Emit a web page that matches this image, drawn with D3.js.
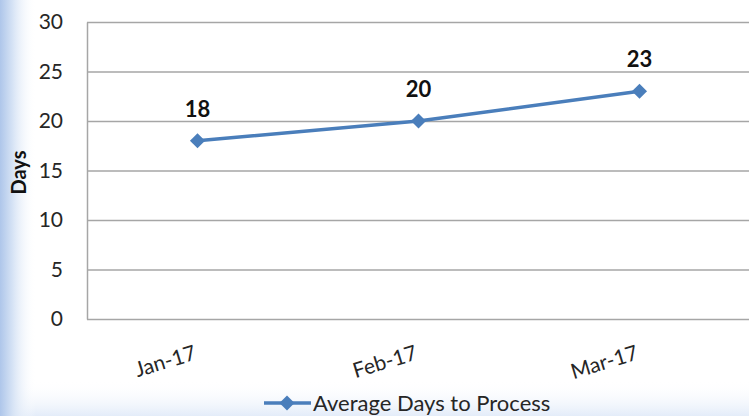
<!DOCTYPE html>
<html>
<head>
<meta charset="utf-8">
<script src="https://cdn.jsdelivr.net/npm/d3@7"></script>
<style>
  html, body { margin: 0; padding: 0; background: #fff; }
  svg { display: block; }
  text { font-family: Lato, "Open Sans", "Liberation Sans", sans-serif; }
</style>
</head>
<body>
<svg id="chart" width="749" height="416"></svg>
<script>
// Monthly average processing time
const months = ["Jan-17", "Feb-17", "Mar-17"];
const avgDays = [18, 20, 23];
const yTicks = [0, 5, 10, 15, 20, 25, 30];
const seriesName = "Average Days to Process";

const W = 749, H = 416;
const plot = { left: 87, right: 750, top: 22, bottom: 319 };
const lineColor = "#4a7ebb";

const svg = d3.select("#chart");
const defs = svg.append("defs");

// Soft blue edges of the chart frame
const gl = defs.append("linearGradient").attr("id", "edgeLeft")
  .attr("x1", 0).attr("x2", 1).attr("y1", 0).attr("y2", 0);
gl.append("stop").attr("offset", 0).attr("stop-color", "#aec6ea");
gl.append("stop").attr("offset", 0.35).attr("stop-color", "#d6e3f5");
gl.append("stop").attr("offset", 1).attr("stop-color", "#ffffff").attr("stop-opacity", 0);

const gb = defs.append("linearGradient").attr("id", "edgeBottom")
  .attr("x1", 0).attr("x2", 0).attr("y1", 0).attr("y2", 1);
gb.append("stop").attr("offset", 0).attr("stop-color", "#ffffff").attr("stop-opacity", 0);
gb.append("stop").attr("offset", 1).attr("stop-color", "#e3ecf9");

svg.append("rect").attr("width", W).attr("height", H).attr("fill", "#fff");
svg.append("rect").attr("x", 0).attr("y", 380).attr("width", W).attr("height", 36)
  .attr("fill", "url(#edgeBottom)");
svg.append("rect").attr("x", 0).attr("y", 0).attr("width", 36).attr("height", H)
  .attr("fill", "url(#edgeLeft)");

const x = d3.scaleBand().domain(months).range([plot.left, plot.right]);
const y = d3.scaleLinear().domain([0, 30]).range([plot.bottom, plot.top]);

// Horizontal gridlines
svg.append("g").selectAll("line").data(yTicks).join("line")
  .attr("x1", plot.left).attr("x2", W)
  .attr("y1", d => y(d) + 0.5).attr("y2", d => y(d) + 0.5)
  .attr("stroke", "#a6a6a6").attr("stroke-width", 1.3);

// Y axis
const yAxis = svg.append("g").attr("transform", `translate(${plot.left},0)`)
  .call(d3.axisLeft(y).tickValues(yTicks).tickSize(0).tickPadding(24));
yAxis.select(".domain").attr("stroke", "#a6a6a6").attr("stroke-width", 1.5);
yAxis.selectAll("text").attr("font-size", 21).attr("fill", "#262626")
  .attr("font-family", "Lato, 'Open Sans', sans-serif");

// X axis with slanted month labels
const xAxis = svg.append("g").attr("transform", `translate(0,${plot.bottom})`)
  .call(d3.axisBottom(x).tickSize(0).tickPadding(0));
xAxis.select(".domain").remove();
xAxis.selectAll("text")
  .attr("font-size", 21).attr("fill", "#262626")
  .attr("font-family", "Lato, 'Open Sans', sans-serif")
  .attr("text-anchor", "end")
  .attr("dy", 0)
  .attr("transform", "translate(0,40) rotate(-17)");

// Y axis title
svg.append("text")
  .attr("transform", `translate(26,${(plot.top + plot.bottom) / 2 + 2}) rotate(-90)`)
  .attr("text-anchor", "middle")
  .attr("font-size", 20).attr("font-weight", "bold").attr("fill", "#111")
  .text("Days");

// Series line
const cx = d => x(d) + x.bandwidth() / 2;
const line = d3.line().x((d, i) => cx(months[i])).y(d => y(d));
svg.append("path").datum(avgDays)
  .attr("d", line).attr("fill", "none")
  .attr("stroke", lineColor).attr("stroke-width", 3.5).attr("stroke-linejoin", "round");

const diamond = d3.symbol().type(d3.symbolDiamond2).size(145);
svg.append("g").selectAll("path").data(avgDays).join("path")
  .attr("d", diamond)
  .attr("transform", (d, i) => `translate(${cx(months[i])},${y(d)})`)
  .attr("fill", lineColor);

// Value labels
svg.append("g").selectAll("text").data(avgDays).join("text")
  .attr("x", (d, i) => cx(months[i]))
  .attr("y", d => y(d) - 24)
  .attr("text-anchor", "middle")
  .attr("font-size", 22).attr("font-weight", "bold").attr("fill", "#111")
  .text(d => d);

// Legend
const lg = svg.append("g").attr("transform", "translate(264,403)");
lg.append("line").attr("x1", 0).attr("x2", 47).attr("y1", 0).attr("y2", 0)
  .attr("stroke", lineColor).attr("stroke-width", 3.5);
lg.append("path").attr("d", diamond).attr("transform", "translate(23,0)")
  .attr("fill", lineColor);
lg.append("text").attr("x", 49).attr("y", 0).attr("dy", "0.35em")
  .attr("font-size", 22).attr("fill", "#262626").text(seriesName);
</script>
</body>
</html>
